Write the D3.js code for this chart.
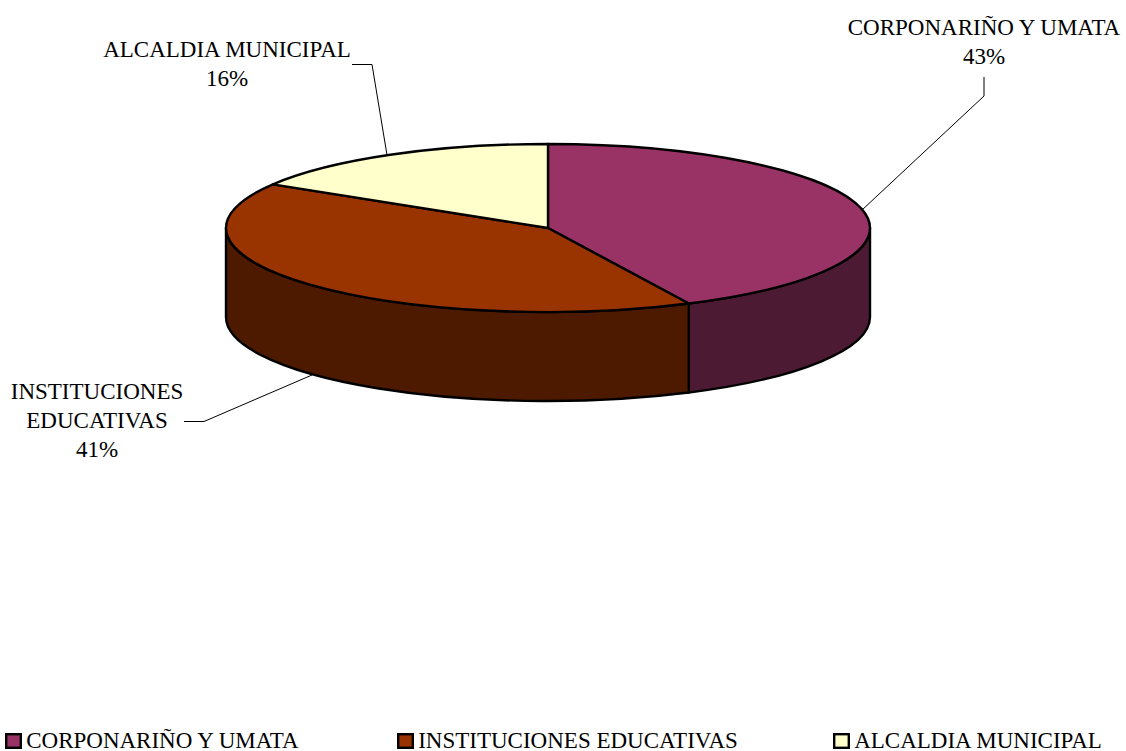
<!DOCTYPE html>
<html><head><meta charset="utf-8">
<style>html,body{margin:0;padding:0;background:#fff}svg{display:block}text{font-family:"Liberation Serif","Times New Roman",serif;fill:#000;font-size:23px}</style>
<script src="https://cdn.jsdelivr.net/npm/d3@7/dist/d3.min.js"></script></head><body>
<script>
const categories=["CORPONARIÑO Y UMATA","INSTITUCIONES EDUCATIVAS","ALCALDIA MUNICIPAL"];
const values=[42.8,40.9,16.3];
const topColors=["#993366","#993300","#FFFFCC"];
const sideColors=["#4D1A33","#4D1A00","#80805F"];
const labelLines=[["CORPONARIÑO Y UMATA"],["INSTITUCIONES","EDUCATIVAS"],["ALCALDIA MUNICIPAL"]];
const W=1126,H=751,cx=548,cy=228,rx=322,ry=84,depth=89;
const svg=d3.select("body").append("svg").attr("width",W).attr("height",H);
const arcs=d3.pie().sort(null).value(d=>d)(values);
const px=a=>cx+rx*Math.sin(a), py=a=>cy-ry*Math.cos(a);
const wall=(a0,a1)=>{
  const n=`A${rx} ${ry} 0 0 `;
  return `M${px(a0)} ${py(a0)}L${px(a0)} ${py(a0)+depth}${n}1 ${px(a1)} ${py(a1)+depth}L${px(a1)} ${py(a1)}${n}0 ${px(a0)} ${py(a0)}Z`;
};
const lo=Math.PI/2,hi=Math.PI*1.5;
arcs.forEach((d,i)=>{
  const a0=Math.max(d.startAngle,lo),a1=Math.min(d.endAngle,hi);
  if(a1<=a0)return;
  svg.append("path").attr("d",wall(a0,a1)).attr("fill",sideColors[i]).attr("stroke","#000").attr("stroke-width",2.4).attr("stroke-linejoin","round");
});
const arcGen=d3.arc().innerRadius(0).outerRadius(rx);
const g=svg.append("g").attr("transform",`translate(${cx},${cy}) scale(1,${ry/rx})`);
arcs.forEach((d,i)=>{
  g.append("path").attr("d",arcGen(d)).attr("fill",topColors[i]).attr("stroke","#000").attr("stroke-width",2.4).attr("vector-effect","non-scaling-stroke").attr("stroke-linejoin","round");
});
const fmt=d3.format(".0f");
const labelPos=[{x:984,y:35},{x:97,y:399},{x:227,y:57}];
const leaders=[[[984,77],[984,96],[862,210]],[[184,421.5],[204,421.5],[312,375]],[[352,64.5],[372,64.5],[387,155]]];
const lh=29;
labelLines.forEach((ls,i)=>{
  const t=svg.append("text").attr("text-anchor","middle");
  ls.concat(fmt(values[i])+"%").forEach((s,j)=>t.append("tspan").attr("x",labelPos[i].x).attr("y",labelPos[i].y+j*lh).text(s));
  svg.append("path").attr("d",d3.line()(leaders[i])).attr("fill","none").attr("stroke","#000").attr("stroke-width",1);
});
const legX=[6.2,398.2,834.2];
categories.forEach((c,i)=>{
  svg.append("rect").attr("x",legX[i]).attr("y",734.2).attr("width",14.6).attr("height",13.6).attr("fill",topColors[i]).attr("stroke","#000").attr("stroke-width",2.4);
  svg.append("text").attr("x",legX[i]+20).attr("y",748).text(c);
});
</script></body></html>
